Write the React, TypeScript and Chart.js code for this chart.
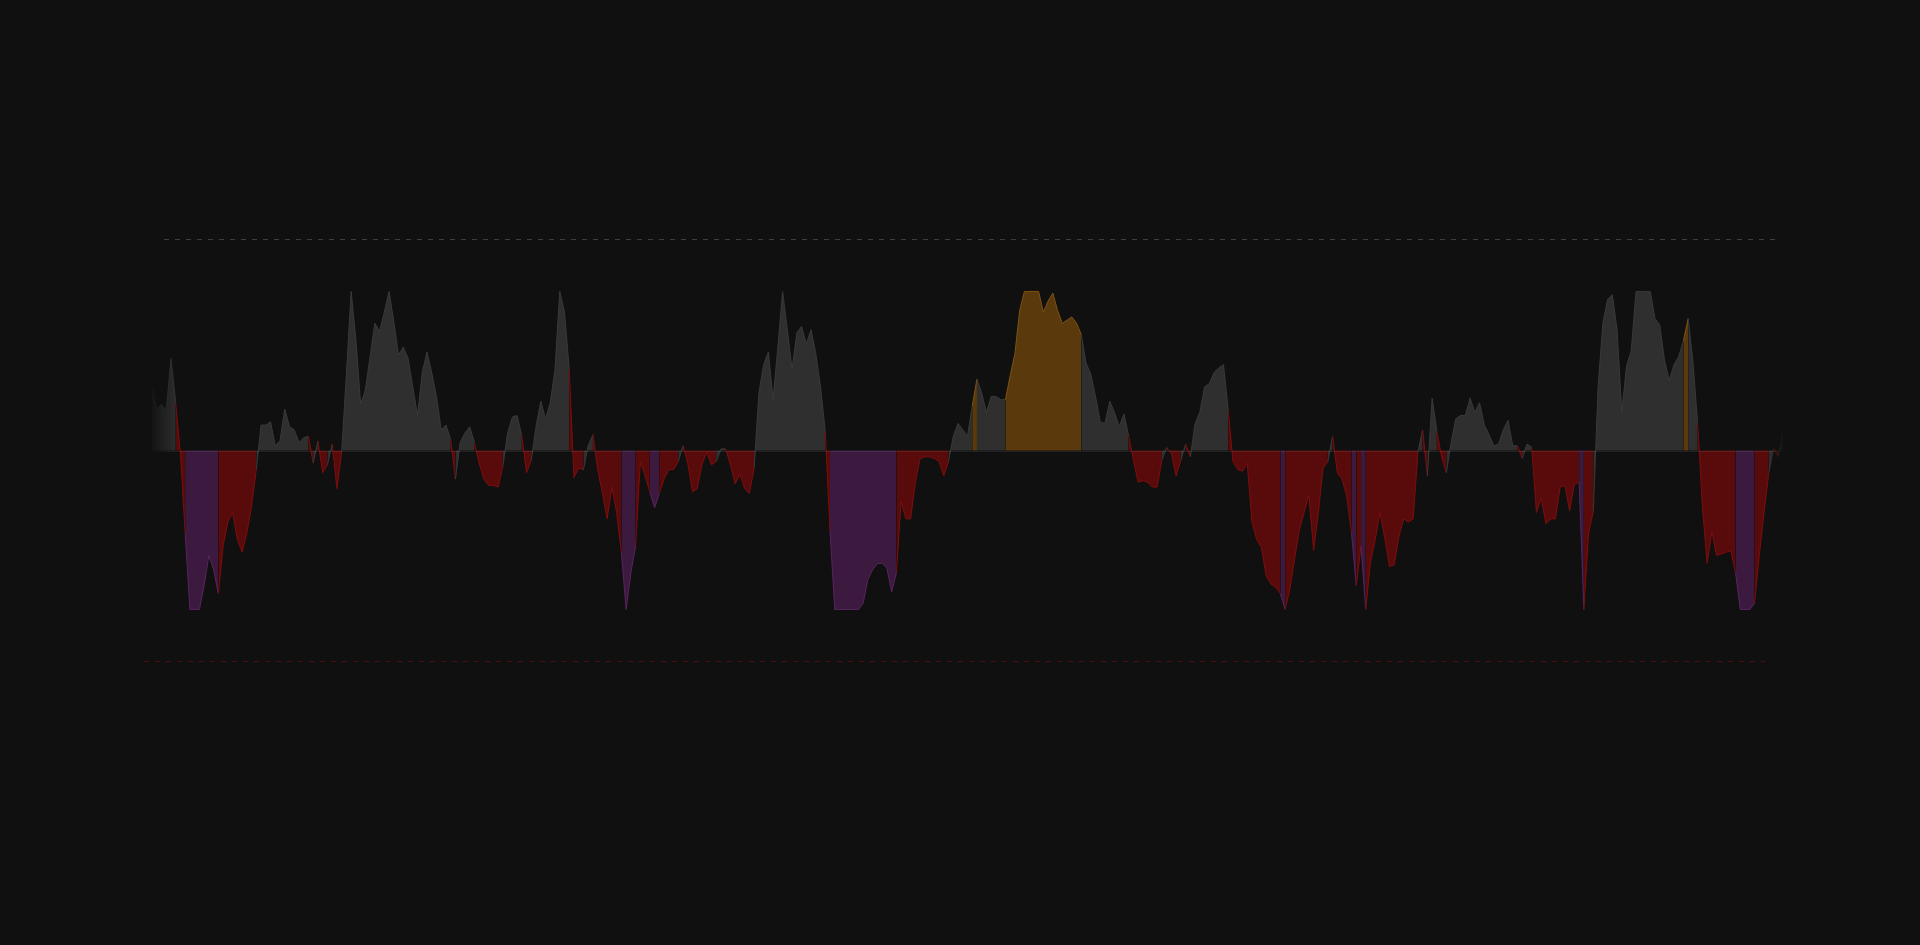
import React, { useEffect, useRef } from 'react';
import { Chart, registerables } from 'chart.js';

Chart.register(...registerables);

// daily regime score, clamped at +/-100
const flow = [
  40, 26, 29, 25, 58, 30, -2, -52, -100, -100,
  -100, -85, -66, -75, -90, -60, -45, -39, -56, -64,
  -52, -35, -12, 16, 16, 18, 3, 6, 26, 15,
  13, 5, 8, 9, -8, 6, -14, -9, 4, -24,
  -1, 48, 100, 70, 29, 38, 59, 80, 75, 87,
  100, 81, 60, 65, 58, 40, 22, 49, 62, 49,
  34, 13, 16, 7, -18, 5, 11, 15, 5, -8,
  -18, -22, -22, -23, -10, 11, 21, 22, 9, -14,
  -6, 15, 31, 20, 30, 51, 100, 87, 51, -17,
  -11, -12, 3, 10, -12, -27, -43, -23, -39, -64,
  -100, -77, -60, -7, -16, -26, -36, -27, -18, -12,
  -12, -7, 3, -8, -26, -24, -9, -1, -9, -7,
  1, 1, -9, -21, -15, -24, -27, -11, 36, 54,
  62, 32, 65, 100, 76, 51, 74, 78, 67, 76,
  61, 40, 12, -50, -100, -100, -100, -100, -100, -100,
  -96, -81, -75, -71, -71, -74, -89, -77, -32, -43,
  -43, -20, -5, -4, -4, -5, -7, -16, -7, 9,
  17, 13, 9, 28, 45, 36, 24, 34, 34, 32,
  32, 47, 61, 88, 100, 100, 100, 100, 87, 94,
  99, 88, 80, 82, 84, 80, 73, 55, 48, 34,
  18, 17, 31, 24, 15, 23, 9, -6, -20, -19,
  -20, -23, -23, -6, 2, -2, -16, -6, 4, -4,
  17, 24, 40, 42, 49, 52, 54, 25, -7, -12,
  -13, -8, -45, -56, -61, -79, -84, -86, -90, -100,
  -87, -68, -50, -39, -28, -63, -39, -11, -7, 9,
  -14, -18, -29, -52, -85, -60, -100, -70, -56, -39,
  -55, -73, -72, -54, -43, -45, -43, -1, 13, -16,
  33, 12, -4, -14, 5, 20, 22, 22, 33, 24,
  30, 16, 10, 3, 4, 13, 19, 3, 3, -5,
  4, 2, -39, -30, -46, -43, -43, -23, -22, -38,
  -21, -20, -100, -52, -38, 40, 80, 95, 98, 76,
  24, 53, 63, 100, 100, 100, 100, 83, 79, 57,
  44, 54, 59, 69, 83, 56, 17, -35, -71, -51,
  -66, -65, -64, -63, -77, -100, -100, -100, -96, -66,
  -39, -14, 1, -4, 11,
];

// index ranges (inclusive) flagged as extreme regime
const extremeRanges: [number, number][] = [
  [8, 14], [100, 102], [106, 107], [144, 157], [174, 174], [181, 196],
  [239, 239], [254, 254], [256, 256], [302, 302], [324, 324], [335, 338],
];

const days = flow.map((_, i) => `D${i + 1}`);

const AXIS = 133;
const BG = '#101010';

const isExtreme = (i: number) => extremeRanges.some(([a, b]) => i >= a && i <= b);

const pick = (i: number, fill: boolean) => {
  const up = flow[i] >= 0;
  const ext = isExtreme(i);
  if (up) {
    if (ext) return fill ? '#5a3a0d' : '#7c5212';
    return fill ? '#2f2f2f' : '#393939';
  }
  if (ext) return fill ? '#3c1a3f' : '#58235e';
  return fill ? '#590b0b' : '#7e0d0d';
};

const decor = {
  id: 'decor',
  beforeDraw(chart: any) {
    const { ctx, width, height } = chart;
    ctx.save();
    ctx.fillStyle = BG;
    ctx.fillRect(0, 0, width, height);
    ctx.restore();
  },
  afterDatasetsDraw(chart: any) {
    const { ctx, chartArea: a, scales } = chart;
    const y = scales.y;
    const y0 = Math.round(y.getPixelForValue(0)) + 0.5;
    const hiY = y.getPixelForValue(102);
    const loY = y.getPixelForValue(-102);
    ctx.save();
    ctx.strokeStyle = 'rgba(255,255,255,0.08)';
    ctx.lineWidth = 1;
    ctx.beginPath();
    ctx.moveTo(a.left - 4, y0);
    ctx.lineTo(a.right, y0);
    ctx.stroke();

    // soft edges
    const lg = ctx.createLinearGradient(a.left - 4, 0, a.left + 26, 0);
    lg.addColorStop(0, 'rgba(16,16,16,1)');
    lg.addColorStop(1, 'rgba(16,16,16,0)');
    ctx.fillStyle = lg;
    ctx.fillRect(a.left - 4, hiY, 30, loY - hiY);
    const rg = ctx.createLinearGradient(a.right - 14, 0, a.right + 2, 0);
    rg.addColorStop(0, 'rgba(16,16,16,0)');
    rg.addColorStop(1, 'rgba(16,16,16,1)');
    ctx.fillStyle = rg;
    ctx.fillRect(a.right - 14, hiY, 18, loY - hiY);

    // range guides
    ctx.setLineDash([5, 6]);
    const yt = Math.round(y.getPixelForValue(AXIS)) + 0.5;
    ctx.strokeStyle = '#3d3d3d';
    ctx.beginPath();
    ctx.moveTo(a.left + 12, yt);
    ctx.lineTo(a.right - 4, yt);
    ctx.stroke();
    const yb = Math.round(y.getPixelForValue(-AXIS)) - 0.5;
    ctx.strokeStyle = '#4c1010';
    ctx.beginPath();
    ctx.moveTo(a.left - 8, yb);
    ctx.lineTo(a.right - 18, yb);
    ctx.stroke();
    ctx.restore();
  },
};

const App: React.FC = () => {
  const canvasRef = useRef<HTMLCanvasElement>(null);

  useEffect(() => {
    if (!canvasRef.current) return;
    const chart = new Chart(canvasRef.current, {
      type: 'line',
      data: {
        labels: days,
        datasets: [
          {
            data: flow,
            fill: 'origin',
            backgroundColor: '#2f2f2f',
            borderColor: '#393939',
            borderWidth: 1,
            pointRadius: 0,
            tension: 0,
            segment: {
              backgroundColor: (c: any) => pick(c.p1DataIndex, true),
              borderColor: (c: any) => pick(c.p1DataIndex, false),
            },
          },
        ],
      },
      options: {
        responsive: true,
        maintainAspectRatio: false,
        animation: false,
        layout: { padding: { left: 152, right: 137, top: 239, bottom: 283 } },
        scales: {
          x: { display: false },
          y: { display: false, min: -AXIS, max: AXIS },
        },
        plugins: {
          legend: { display: false },
          tooltip: { enabled: false },
        },
      },
      plugins: [decor],
    });
    return () => chart.destroy();
  }, []);

  return (
    <div style={{ position: 'fixed', inset: 0, background: BG }}>
      <canvas ref={canvasRef} />
    </div>
  );
};

export default App;
